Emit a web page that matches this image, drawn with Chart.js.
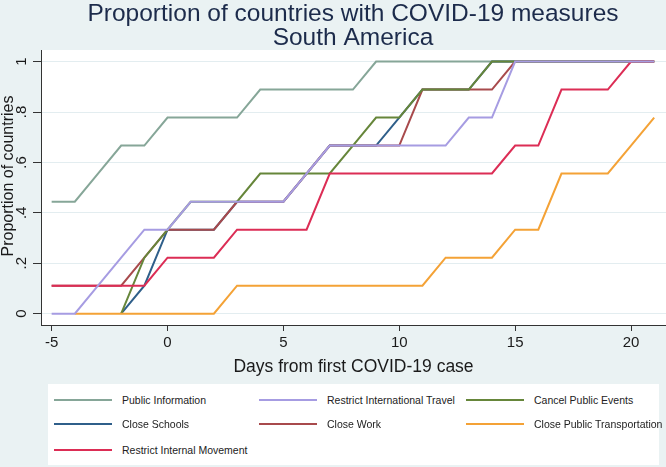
<!DOCTYPE html>
<html>
<head>
<meta charset="utf-8">
<script src="https://cdn.jsdelivr.net/npm/chart.js@4/dist/chart.umd.min.js"></script>
<style>
  html, body { margin: 0; padding: 0; background: #eaf2f3; }
  #wrap { position: relative; width: 666px; height: 467px; overflow: hidden; }
  #c { position: absolute; left: 0; top: 0; }
  #legend { position: absolute; left: 48px; top: 384px; width: 611px; height: 81px; background: #fff;
            font-family: "Liberation Sans", Arial, sans-serif; font-size: 10.5px; color: #222; }
  .sw { position: absolute; width: 58px; height: 2px; }
  .lt { position: absolute; white-space: nowrap; line-height: 12px; }
</style>
</head>
<body>
<div id="wrap">
  <canvas id="c" width="666" height="467"></canvas>
  <div id="legend"></div>
</div>
<script>
// ---- data ----
const days = [-5,-4,-3,-2,-1,0,1,2,3,4,5,6,7,8,9,10,11,12,13,14,15,16,17,18,19,20,21];
const publicInformation = [0.444,0.444,0.556,0.667,0.667,0.778,0.778,0.778,0.778,0.889,0.889,0.889,0.889,0.889,1,1,1,1,1,1,1,1,1,1,1,1,1];
const restrictInternationalTravel = [0,0,0.111,0.222,0.333,0.333,0.444,0.444,0.444,0.444,0.444,0.556,0.667,0.667,0.667,0.667,0.667,0.667,0.778,0.778,1,1,1,1,1,1,1];
const cancelPublicEvents = [null,null,null,0,0.222,0.333,0.444,0.444,0.444,0.556,0.556,0.556,0.556,0.667,0.778,0.778,0.889,0.889,0.889,1,1,1,1,1,1,1,1];
const closeSchools = [null,null,null,0,0.111,0.333,0.333,0.333,0.444,0.444,0.444,0.556,0.667,0.667,0.667,0.778,0.889,0.889,0.889,1,1,1,1,1,1,1,1];
const closeWork = [0.111,0.111,0.111,0.111,0.222,0.333,0.333,0.333,0.444,0.444,0.444,0.556,0.667,0.667,0.667,0.667,0.889,0.889,0.889,0.889,1,1,1,1,1,1,1];
const closePublicTransportation = [null,0,0,0,0,0,0,0,0.111,0.111,0.111,0.111,0.111,0.111,0.111,0.111,0.111,0.222,0.222,0.222,0.333,0.333,0.556,0.556,0.556,0.667,0.778];
const restrictInternalMovement = [0.111,0.111,0.111,0.111,0.111,0.222,0.222,0.222,0.333,0.333,0.333,0.333,0.556,0.556,0.556,0.556,0.556,0.556,0.556,0.556,0.667,0.667,0.889,0.889,0.889,1,1];

const seriesNames = ["Public Information","Restrict International Travel","Cancel Public Events","Close Schools","Close Work","Close Public Transportation","Restrict Internal Movement"];
const seriesValues = [publicInformation, restrictInternationalTravel, cancelPublicEvents, closeSchools, closeWork, closePublicTransportation, restrictInternalMovement];
const seriesColors = ["#86a698","#a69ce2","#66863a","#2f5f8a","#a84a4c","#f4a236","#dc2d55"];
const drawOrder = [6,0,3,5,4,2,1]; // lower = drawn on top
const xTicks = [-5,0,5,10,15,20];
const yTicks = [0,0.2,0.4,0.6,0.8,1];
const yTickLabels = ["0",".2",".4",".6",".8","1"];

const FONT = '"Liberation Sans", Arial, sans-serif';

const datasets = seriesNames.map((name, i) => ({
  label: name,
  data: days.map((d, j) => ({ x: d, y: seriesValues[i][j] })),
  borderColor: seriesColors[i],
  backgroundColor: seriesColors[i],
  borderWidth: 2,
  pointRadius: 0,
  tension: 0,
  fill: false,
  order: drawOrder[i]
}));

const decor = {
  id: 'decor',
  beforeDraw(chart) {
    const { ctx, chartArea: a } = chart;
    ctx.save();
    ctx.fillStyle = '#ffffff';
    ctx.fillRect(a.left, a.top, a.right - a.left, a.bottom - a.top);
    ctx.restore();
  },
  afterDraw(chart) {
    const { ctx, chartArea: a } = chart;
    const y = chart.scales.y;
    ctx.save();
    ctx.fillStyle = '#1a1a1a';
    ctx.font = '15px ' + FONT;
    ctx.textAlign = 'center';
    ctx.textBaseline = 'middle';
    yTicks.forEach((v, i) => {
      const py = y.getPixelForValue(v);
      ctx.save();
      ctx.translate(22, py);
      ctx.rotate(-Math.PI / 2);
      ctx.fillText(yTickLabels[i], 0, 0);
      ctx.restore();
    });
    ctx.font = '16px ' + FONT;
    ctx.save();
    ctx.translate(9, 176);
    ctx.rotate(-Math.PI / 2);
    ctx.fillText('Proportion of countries', 0, 0);
    ctx.restore();
    ctx.font = '17.5px ' + FONT;
    ctx.fillText('Days from first COVID-19 case', (a.left + a.right) / 2, 367);
    ctx.restore();
  }
};

new Chart(document.getElementById('c'), {
  type: 'line',
  data: { datasets },
  plugins: [decor],
  options: {
    responsive: false,
    animation: false,
    layout: { padding: { left: 40, right: 0, top: 0, bottom: 0 } },
    plugins: {
      legend: { display: false },
      tooltip: { enabled: false },
      title: {
        display: true,
        text: ['Proportion of countries with COVID-19 measures', 'South America'],
        color: '#1c2b4b',
        font: { family: FONT, size: 24.5, weight: 'normal', lineHeight: 24 / 24.5 },
        padding: { top: 2, bottom: 0 }
      }
    },
    scales: {
      x: {
        type: 'linear',
        min: -5.46,
        max: 21.51,
        afterBuildTicks(s) { s.ticks = xTicks.map(v => ({ value: v })); },
        afterFit(s) { s.height = 142; },
        ticks: { color: '#1a1a1a', font: { family: FONT, size: 15 }, padding: 3, maxRotation: 0, autoSkip: false },
        grid: { drawOnChartArea: false, tickLength: 6, tickColor: '#333', tickWidth: 1 },
        border: { color: '#333', width: 1 }
      },
      y: {
        type: 'linear',
        min: -0.045,
        max: 1.046,
        afterBuildTicks(s) { s.ticks = yTicks.map(v => ({ value: v })); },
        afterFit(s) { s.width = 1; },
        ticks: { display: false },
        grid: { color: '#e3edf0', lineWidth: 1, tickLength: 8, tickColor: '#333', tickWidth: 1 },
        border: { color: '#333', width: 1 }
      }
    }
  }
});

// HTML legend laid out in Stata's 3-column grid
const legendEl = document.getElementById('legend');
const colSw = [6, 211, 418], colTx = [74, 279, 486], rowY = [16, 40, 66];
seriesNames.forEach((name, i) => {
  const r = Math.floor(i / 3), c = i % 3;
  const sw = document.createElement('div');
  sw.className = 'sw';
  sw.style.left = colSw[c] + 'px';
  sw.style.top = (rowY[r] - 1) + 'px';
  sw.style.background = seriesColors[i];
  legendEl.appendChild(sw);
  const t = document.createElement('div');
  t.className = 'lt';
  t.style.left = colTx[c] + 'px';
  t.style.top = (rowY[r] - 6) + 'px';
  t.textContent = name;
  legendEl.appendChild(t);
});
</script>
</body>
</html>
